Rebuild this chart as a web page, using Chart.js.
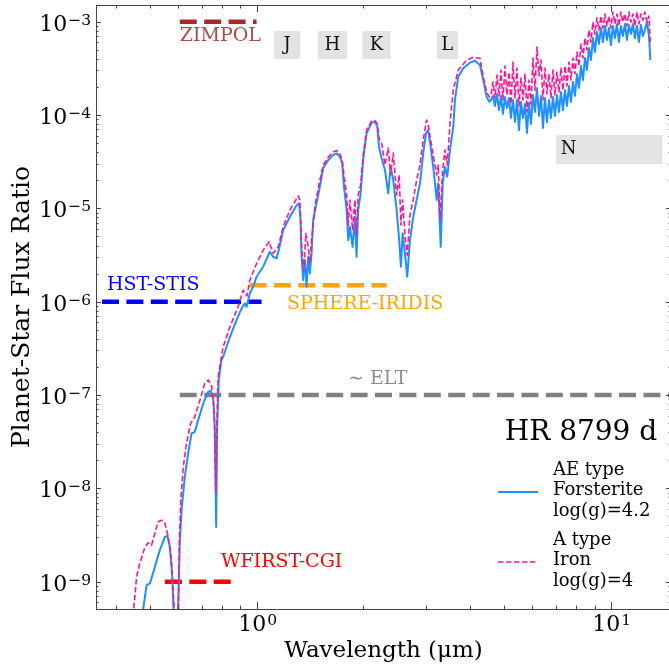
<!DOCTYPE html>
<html>
<head>
<meta charset="utf-8">
<script src="https://cdn.jsdelivr.net/npm/chart.js@4.4.0/dist/chart.umd.min.js"></script>
<style>
  html, body { margin: 0; padding: 0; overflow: hidden; background: #fff; }
  #wrap { width: 676px; height: 666px; }
</style>
</head>
<body>
<div id="wrap"><canvas id="flux" width="676" height="666"></canvas></div>
<script>
// AE type, forsterite, log(g)=4.2  (wavelength in micron, planet/star flux ratio)
const waveAE = [0.465, 0.489, 0.500, 0.516, 0.533, 0.551, 0.560, 0.569, 0.578, 0.584, 0.592, 0.599,
  0.607, 0.614, 0.627, 0.641, 0.655, 0.669, 0.684, 0.707, 0.730, 0.741, 0.754, 0.762, 0.769, 0.774,
  0.782, 0.796, 0.805, 0.841, 0.878, 0.907, 0.927, 0.937, 0.957, 0.978, 1.000, 1.044, 1.090, 1.114,
  1.139, 1.158, 1.189, 1.242, 1.297, 1.319, 1.331, 1.340, 1.354, 1.369, 1.384, 1.399, 1.414, 1.430,
  1.445, 1.477, 1.509, 1.542, 1.594, 1.646, 1.683, 1.719, 1.745, 1.765, 1.796, 1.815, 1.835, 1.867,
  1.895, 1.916, 1.936, 1.967, 2.000, 2.045, 2.113, 2.159, 2.192, 2.216, 2.255, 2.304, 2.354, 2.390,
  2.432, 2.486, 2.528, 2.556, 2.585, 2.624, 2.663, 2.711, 2.770, 2.831, 2.893, 2.955, 3.008, 3.053,
  3.101, 3.154, 3.225, 3.258, 3.311, 3.354, 3.404, 3.455, 3.517, 3.593, 3.633, 3.711, 3.834, 4.005,
  4.137, 4.274, 4.366, 4.463, 4.539,
  4.590, 4.650, 4.711, 4.773, 4.836, 4.899, 4.963, 5.028, 5.094, 5.161,
  5.228, 5.297, 5.366, 5.436, 5.508, 5.580, 5.653, 5.727, 5.802, 5.878,
  5.955, 6.033, 6.112, 6.192, 6.273, 6.355, 6.438, 6.522, 6.607, 6.694,
  6.781, 6.870, 6.960, 7.051, 7.143, 7.237, 7.331, 7.427, 7.524, 7.623,
  7.723, 7.824, 7.926, 8.030, 8.135, 8.241, 8.349, 8.458, 8.569, 8.681,
  8.795, 8.910, 9.026, 9.144, 9.264, 9.385, 9.508, 9.632, 9.758, 9.886,
  10.015, 10.146, 10.279, 10.413, 10.549, 10.687, 10.827, 10.969, 11.112, 11.258,
  11.405, 11.554, 11.705, 11.858, 12.013, 12.170, 12.329, 12.490, 12.653, 12.819, 12.944];
const fluxAE = [2.36e-10, 9.18e-10, 9.57e-10, 1.44e-9, 2.18e-9, 3.02e-9, 3.10e-9, 2.36e-9, 1.12e-9, 3.9e-10, 1.4e-10, 3.9e-10,
  2.59e-9, 5.83e-9, 1.33e-8, 2.37e-8, 3.87e-8, 4.03e-8, 5.38e-8, 8.13e-8, 1.08e-7, 1.11e-7, 9.57e-8, 4.56e-8, 3.86e-9, 4.56e-8,
  1.45e-7, 2.37e-7, 2.57e-7, 4.21e-7, 6.35e-7, 8.47e-7, 9.6e-7, 8.82e-7, 1.23e-6, 1.45e-6, 1.85e-6, 2.37e-6, 3.43e-6, 3.03e-6,
  2.91e-6, 3.72e-6, 5.85e-6, 8.13e-6, 1.08e-5, 1.13e-5, 7.5e-6, 3.03e-6, 1.70e-6, 2.79e-6, 1.45e-6, 3.03e-6, 2.01e-6, 3.30e-6,
  7.5e-6, 1.13e-5, 1.71e-5, 2.69e-5, 3.30e-5, 3.73e-5, 3.88e-5, 3.57e-5, 3.03e-5, 1.71e-5, 9.6e-6, 4.57e-6, 6.35e-6, 3.87e-6,
  8.13e-6, 3.03e-6, 9.6e-6, 1.45e-5, 3.30e-5, 6.37e-5, 8.26e-5, 8.47e-5, 7.5e-5, 4.57e-5, 3.44e-5, 2.58e-5, 1.45e-5, 2.79e-5,
  2.01e-5, 9.6e-6, 4.57e-6, 2.37e-6, 5.4e-6, 3.30e-6, 1.85e-6, 4.57e-6, 8.13e-6, 1.23e-5, 1.85e-5, 3.88e-5, 6.37e-5, 6.9e-5,
  4.57e-5, 2.79e-5, 1.23e-5, 1.85e-5, 3.87e-6, 1.85e-5, 2.79e-5, 2.18e-5, 4.22e-5, 7.5e-5, 1.45e-4, 2.58e-4, 3.17e-4, 3.64e-4,
  3.82e-4, 3.43e-4, 2.37e-4, 1.57e-4, 1.39e-4,
  1.45e-4, 1.60e-4, 1.25e-4, 1.68e-4, 1.13e-4, 1.60e-4, 1.03e-4, 1.56e-4, 1.19e-4, 1.52e-4,
  9.29e-5, 1.45e-4, 8.41e-5, 1.45e-4, 6.9e-5, 1.38e-4, 9.29e-5, 1.31e-4, 6.41e-5, 1.35e-4,
  8.02e-5, 1.64e-4, 1.08e-4, 1.95e-4, 9.76e-5, 1.60e-4, 7.26e-5, 1.52e-4, 8.41e-5, 1.45e-4,
  9.29e-5, 1.56e-4, 9.76e-5, 1.64e-4, 1.08e-4, 1.77e-4, 1.13e-4, 1.85e-4, 1.25e-4, 2.05e-4,
  1.38e-4, 2.26e-4, 1.60e-4, 2.75e-4, 1.95e-4, 3.35e-4, 2.37e-4, 4.08e-4, 3.03e-4, 5.22e-4,
  3.89e-4, 6.68e-4, 4.73e-4, 7.76e-4, 5.77e-4, 8.56e-4, 6.05e-4, 9.0e-4, 6.37e-4, 8.56e-4,
  5.62e-4, 9.0e-4, 6.68e-4, 9.45e-4, 6.05e-4, 9.0e-4, 7.03e-4, 9.45e-4, 6.37e-4, 9.23e-4,
  7.38e-4, 9.45e-4, 6.68e-4, 9.0e-4, 6.05e-4, 9.23e-4, 7.03e-4, 8.15e-4, 9.93e-4, 7.20e-4, 3.89e-4];

// A type, iron, log(g)=4
const waveA = [0.441, 0.455, 0.458, 0.468, 0.484, 0.494, 0.505, 0.516, 0.527, 0.539, 0.551, 0.563, 0.575, 0.592, 0.596, 0.601,
  0.605, 0.611, 0.621, 0.634, 0.651, 0.669, 0.692, 0.714, 0.730, 0.746, 0.759, 0.767, 0.772, 0.779, 0.796, 0.805, 0.841, 0.887,
  0.917, 0.939, 0.957, 1.000, 1.044, 1.085, 1.114, 1.151, 1.189, 1.242, 1.311, 1.325, 1.340, 1.360, 1.378, 1.399, 1.414, 1.430,
  1.461, 1.509, 1.542, 1.594, 1.646, 1.683, 1.719, 1.745, 1.765, 1.796, 1.815, 1.835, 1.867, 1.895, 1.916, 1.936, 1.967, 2.000,
  2.045, 2.113, 2.159, 2.192, 2.216, 2.255, 2.304, 2.354, 2.390, 2.432, 2.486, 2.528, 2.556, 2.585, 2.624, 2.663, 2.711, 2.770,
  2.831, 2.893, 2.955, 3.020, 3.053, 3.101, 3.154, 3.225, 3.258, 3.295, 3.354, 3.404, 3.455, 3.517, 3.593, 3.711, 3.92, 4.09,
  4.274, 4.366, 4.463, 4.539,
  4.590, 4.650, 4.711, 4.773, 4.836, 4.899, 4.963, 5.028, 5.094, 5.161,
  5.228, 5.297, 5.366, 5.436, 5.508, 5.580, 5.653, 5.727, 5.802, 5.878,
  5.955, 6.033, 6.112, 6.192, 6.273, 6.355, 6.438, 6.522, 6.607, 6.694,
  6.781, 6.870, 6.960, 7.051, 7.143, 7.237, 7.331, 7.427, 7.524, 7.623,
  7.723, 7.824, 7.926, 8.030, 8.135, 8.241, 8.349, 8.458, 8.569, 8.681,
  8.795, 8.910, 9.026, 9.144, 9.264, 9.385, 9.508, 9.632, 9.758, 9.886,
  10.015, 10.146, 10.279, 10.413, 10.549, 10.687, 10.827, 10.969, 11.112, 11.258,
  11.405, 11.554, 11.705, 11.858, 12.013, 12.170, 12.329, 12.490, 12.653, 12.819, 12.944];
const fluxA = [2.36e-10, 8.1e-10, 1.12e-9, 1.57e-9, 2.36e-9, 2.61e-9, 2.46e-9, 3.29e-9, 4.38e-9, 4.56e-9, 4.24e-9, 3.02e-9, 1.70e-9, 2.36e-10, 1.4e-10, 3.9e-10,
  2.59e-9, 7.46e-9, 1.70e-8, 3.03e-8, 4.97e-8, 5.83e-8, 8.81e-8, 1.33e-7, 1.45e-7, 1.28e-7, 6.89e-8, 8.9e-9, 4.56e-8, 1.57e-7, 2.61e-7, 3.29e-7, 5.38e-7, 8.81e-7,
  1.33e-6, 1.15e-6, 1.70e-6, 2.57e-6, 3.57e-6, 4.38e-6, 3.30e-6, 3.87e-6, 6.35e-6, 9.6e-6, 1.36e-5, 1.23e-5, 3.87e-6, 2.18e-6, 5.4e-6, 3.87e-6, 2.65e-6, 4.57e-6,
  1.04e-5, 2.01e-5, 2.91e-5, 3.55e-5, 4.01e-5, 4.17e-5, 3.82e-5, 3.30e-5, 2.28e-5, 1.39e-5, 6.62e-6, 1.23e-5, 5.85e-6, 1.23e-5, 5.18e-6, 1.39e-5, 1.78e-5, 3.73e-5,
  6.9e-5, 8.63e-5, 8.73e-5, 8.02e-5, 5.66e-5, 5.01e-5, 2.91e-5, 4.43e-5, 2.28e-5, 3.92e-5, 1.39e-5, 2.28e-5, 6.62e-6, 1.23e-5, 5.18e-6, 3.15e-6, 8.47e-6, 1.23e-5,
  2.01e-5, 2.91e-5, 5.4e-5, 8.83e-5, 7.82e-5, 5.4e-5, 3.73e-5, 2.28e-5, 2.91e-5, 7.5e-6, 2.58e-5, 4.22e-5, 2.91e-5, 8.2e-5, 1.85e-4, 3.03e-4, 3.88e-4, 4.15e-4,
  4.06e-4, 2.58e-4, 1.77e-4, 1.56e-4,
  1.60e-4, 2.26e-4, 1.52e-4, 2.68e-4, 1.60e-4, 3.03e-4, 1.45e-4, 3.35e-4, 1.64e-4, 2.89e-4,
  1.31e-4, 3.70e-4, 1.52e-4, 3.19e-4, 1.25e-4, 2.49e-4, 1.45e-4, 2.75e-4, 1.08e-4, 2.37e-4,
  1.31e-4, 4.08e-4, 1.85e-4, 5.35e-4, 2.62e-4, 3.89e-4, 1.45e-4, 3.19e-4, 1.68e-4, 2.75e-4,
  1.52e-4, 3.03e-4, 1.64e-4, 2.89e-4, 1.77e-4, 3.19e-4, 1.85e-4, 3.35e-4, 2.05e-4, 3.70e-4,
  2.37e-4, 4.08e-4, 2.75e-4, 4.73e-4, 3.35e-4, 5.77e-4, 4.08e-4, 6.68e-4, 4.98e-4, 8.15e-4,
  6.05e-4, 9.93e-4, 7.38e-4, 1.10e-3, 8.15e-4, 1.15e-3, 8.56e-4, 1.21e-3, 9.0e-4, 1.15e-3,
  8.56e-4, 1.27e-3, 9.45e-4, 1.21e-3, 9.0e-4, 1.27e-3, 9.93e-4, 1.21e-3, 9.0e-4, 1.27e-3,
  9.93e-4, 1.21e-3, 9.0e-4, 1.27e-3, 9.45e-4, 1.21e-3, 1.04e-3, 1.27e-3, 9.93e-4, 1.15e-3, 5.62e-4];

// instrument contrast limits: name, wavelength range, flux ratio
const instNames = ['ZIMPOL', 'HST-STIS', 'SPHERE-IRIDIS', '\u223C ELT', 'WFIRST-CGI'];
const instFrom = [0.607, 0.366, 0.955, 0.607, 0.551];
const instTo = [1.0, 1.033, 2.33, 20, 0.85];
const instLevel = [1e-3, 1e-6, 1.5e-6, 1e-7, 1e-9];

// photometric bands
const bandNames = ['J', 'H', 'K', 'L', 'N'];
const bandFrom = [1.12, 1.49, 1.99, 3.23, 7.0];
const bandTo = [1.33, 1.80, 2.39, 3.70, 14.0];

const serif = "'DejaVu Serif', 'Liberation Serif', serif";
const instColors = ['#a52a2a', '#0000ff', '#ffa500', '#808080', '#ff0000'];
const instTextColors = ['#b04a4a', '#0000ff', '#ffa500', '#8c8c8c', '#ff0000'];
// label anchors (left edge, vertical middle) in data units
const instLabelAt = [[0.607, 7.03e-4], [0.378, 1.51e-6], [1.218, 9.42e-7], [1.811, 1.48e-7], [0.793, 1.62e-9]];
const bandBoxFlux = [[7.95e-4, 3.98e-4], [7.95e-4, 3.98e-4], [7.95e-4, 3.98e-4], [7.95e-4, 3.98e-4], [6.1e-5, 2.98e-5]];

function isDecade(v) {
  const l = Math.log10(v);
  return Math.abs(l - Math.round(l)) < 1e-9;
}

function decadeTicks(scale) {
  const ticks = [];
  const lo = Math.floor(Math.log10(scale.min));
  const hi = Math.ceil(Math.log10(scale.max));
  for (let e = lo; e <= hi; e++) {
    for (let k = 1; k <= 9; k++) {
      const v = k * Math.pow(10, e);
      if (v >= scale.min && v <= scale.max) ticks.push({value: v, major: k === 1});
    }
  }
  scale.ticks = ticks;
}

// "10" with a raised exponent, like matplotlib's mathtext labels
function powLabel(ctx, v, x, y, align) {
  const e = Math.round(Math.log10(v));
  const sup = (e < 0 ? '\u2212' : '') + Math.abs(e);
  ctx.font = '22px ' + serif;
  const wm = ctx.measureText('10').width;
  ctx.font = '15.5px ' + serif;
  const ws = ctx.measureText(sup).width;
  const total = wm + 1 + ws;
  const x0 = align === 'right' ? x - total : x - total / 2;
  ctx.textAlign = 'left';
  ctx.textBaseline = 'alphabetic';
  ctx.font = '22px ' + serif;
  ctx.fillText('10', x0, y);
  ctx.font = '15.5px ' + serif;
  ctx.fillText(sup, x0 + wm + 1, y - 6);
}

function toPoints(xs, ys) {
  return xs.map((w, i) => ({x: w, y: ys[i]}));
}

const datasets = [
  {
    label: 'A type Iron log(g)=4',
    data: toPoints(waveA, fluxA),
    borderColor: '#ff1493',
    borderWidth: 1.6,
    borderDash: [5.5, 2.5],
    borderJoinStyle: 'round'
  },
  {
    label: 'AE type Forsterite log(g)=4.2',
    data: toPoints(waveAE, fluxAE),
    borderColor: '#1e90ff',
    borderWidth: 2,
    borderJoinStyle: 'round'
  }
];
instNames.forEach((n, i) => {
  datasets.push({
    label: n,
    data: [{x: instFrom[i], y: instLevel[i]}, {x: instTo[i], y: instLevel[i]}],
    borderColor: instColors[i],
    borderWidth: 4.6,
    borderDash: [17, 7.4]
  });
});

const decor = {
  id: 'decor',
  beforeDatasetsDraw(chart) {
    const {ctx, scales: {x, y}} = chart;
    ctx.save();
    ctx.font = '18px ' + serif;
    ctx.textBaseline = 'middle';
    bandNames.forEach((b, i) => {
      const x0 = x.getPixelForValue(bandFrom[i]);
      const x1 = x.getPixelForValue(bandTo[i]);
      const y0 = y.getPixelForValue(bandBoxFlux[i][0]);
      const y1 = y.getPixelForValue(bandBoxFlux[i][1]);
      ctx.fillStyle = '#e3e3e3';
      ctx.fillRect(x0, y0, x1 - x0, y1 - y0);
      ctx.fillStyle = '#111';
      if (b === 'N') {
        ctx.textAlign = 'left';
        ctx.fillText(b, x0 + 5, (y0 + y1) / 2);
      } else {
        ctx.textAlign = 'center';
        ctx.fillText(b, (x0 + x1) / 2, (y0 + y1) / 2);
      }
    });
    ctx.restore();
  },
  afterDraw(chart) {
    const {ctx, chartArea: a, scales: {x, y}} = chart;
    ctx.save();

    // instrument labels
    ctx.font = '19px ' + serif;
    ctx.textAlign = 'left';
    ctx.textBaseline = 'middle';
    instNames.forEach((n, i) => {
      ctx.fillStyle = instTextColors[i];
      ctx.fillText(n, x.getPixelForValue(instLabelAt[i][0]), y.getPixelForValue(instLabelAt[i][1]));
    });

    // frame and inward ticks
    ctx.strokeStyle = '#444';
    ctx.lineWidth = 1;
    ctx.strokeRect(a.left + 0.5, a.top + 0.5, a.right - a.left, a.bottom - a.top);
    ctx.beginPath();
    x.ticks.forEach(t => {
      const px = Math.round(x.getPixelForValue(t.value)) + 0.5;
      const len = t.major ? 7 : 3.5;
      ctx.moveTo(px, a.bottom); ctx.lineTo(px, a.bottom - len);
      ctx.moveTo(px, a.top); ctx.lineTo(px, a.top + len);
    });
    y.ticks.forEach(t => {
      const py = Math.round(y.getPixelForValue(t.value)) + 0.5;
      const len = t.major ? 5 : 2.5;
      ctx.moveTo(a.left, py); ctx.lineTo(a.left + len, py);
      ctx.moveTo(a.right, py); ctx.lineTo(a.right - len, py);
    });
    ctx.stroke();

    // decade tick labels
    ctx.fillStyle = '#000';
    x.ticks.filter(t => isDecade(t.value)).forEach(t => {
      powLabel(ctx, t.value, x.getPixelForValue(t.value) + 1, a.bottom + 22, 'center');
    });
    y.ticks.filter(t => isDecade(t.value)).forEach(t => {
      powLabel(ctx, t.value, a.left - 5, y.getPixelForValue(t.value) + 9, 'right');
    });

    // panel title
    ctx.font = '28px ' + serif;
    ctx.textAlign = 'center';
    ctx.textBaseline = 'middle';
    ctx.fillText('HR 8799 d', a.right - 90, a.top + 428);

    // legend
    const lx = a.right - 173, tx = a.right - 118;
    ctx.font = '18px ' + serif;
    ctx.textAlign = 'left';
    ctx.lineWidth = 2;
    ctx.strokeStyle = '#1e90ff';
    ctx.beginPath(); ctx.moveTo(lx, a.top + 487); ctx.lineTo(lx + 40, a.top + 487); ctx.stroke();
    ['AE type', 'Forsterite', 'log(g)=4.2'].forEach((s, i) => ctx.fillText(s, tx, a.top + 465 + i * 20.5));
    ctx.lineWidth = 1.6;
    ctx.strokeStyle = '#ff1493';
    ctx.setLineDash([5.5, 2.5]);
    ctx.beginPath(); ctx.moveTo(lx, a.top + 557); ctx.lineTo(lx + 40, a.top + 557); ctx.stroke();
    ctx.setLineDash([]);
    ['A type', 'Iron', 'log(g)=4'].forEach((s, i) => ctx.fillText(s, tx, a.top + 535 + i * 20.5));
    ctx.restore();
  }
};

new Chart(document.getElementById('flux'), {
  type: 'line',
  data: {datasets: datasets},
  options: {
    responsive: false,
    animation: false,
    devicePixelRatio: 1,
    layout: {padding: {left: 0, right: 5, top: 5, bottom: 0}},
    elements: {point: {radius: 0}, line: {tension: 0}},
    plugins: {legend: {display: false}, tooltip: {enabled: false}},
    scales: {
      x: {
        type: 'logarithmic',
        min: 0.352,
        max: 14.8,
        afterBuildTicks: decadeTicks,
        afterFit(s) { s.height = 57; s.paddingLeft = 0; s.paddingRight = 0; },
        grid: {display: false, drawTicks: false},
        border: {display: false},
        ticks: {display: false, autoSkip: false},
        title: {display: true, text: 'Wavelength (\u03BCm)', color: '#000',
          font: {family: serif, size: 23}, padding: {top: 0, bottom: 1}}
      },
      y: {
        type: 'logarithmic',
        min: 5.098e-10,
        max: 1.5097e-3,
        afterBuildTicks: decadeTicks,
        afterFit(s) { s.width = 96; s.paddingTop = 0; s.paddingBottom = 0; },
        grid: {display: false, drawTicks: false},
        border: {display: false},
        ticks: {display: false, autoSkip: false},
        title: {display: true, text: 'Planet-Star Flux Ratio', color: '#000',
          font: {family: serif, size: 25}, padding: {top: 7, bottom: 0}}
      }
    }
  },
  plugins: [decor]
});
</script>
</body>
</html>
